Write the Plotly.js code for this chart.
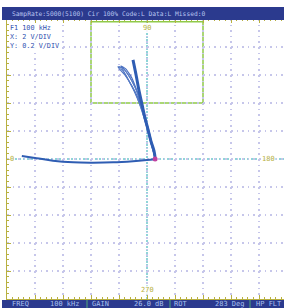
<!DOCTYPE html>
<html><head><meta charset="utf-8">
<script src="https://cdn.plot.ly/plotly-3.0.1.min.js"></script>
<style>html,body{margin:0;padding:0;background:#fff;}#c{width:284px;height:308px;}</style>
</head><body><div id="c"></div>
<script>
// Impedance-plane signal, in screen divisions (X: 2 V/DIV, Y: 0.2 V/DIV)
const horizX = [-4.47,-3.94,-3.36,-2.64,-1.93,-1.21,-0.50,-0.01,0.29];
const horizY = [0.11,0.03,-0.06,-0.12,-0.13,-0.12,-0.08,-0.04,-0.01];
const mainX = [-0.50,-0.39,-0.29,-0.18,-0.07,0.04,0.14,0.25,0.29];
const mainY = [3.54,3.00,2.46,1.96,1.46,1.04,0.64,0.29,0.04];
const loop1X = [0.29,0.14,0.00,-0.14,-0.32,-0.54,-0.79,-1.04,-0.86,-0.64,-0.43,-0.25,-0.11,0.04,0.18,0.29];
const loop1Y = [0.04,0.61,1.18,1.68,2.18,2.61,3.00,3.29,3.25,2.96,2.57,2.11,1.61,1.11,0.54,0.04];
const loop2X = [0.29,0.11,-0.07,-0.25,-0.46,-0.68,-0.93,-0.75,-0.54,-0.36,-0.18,-0.04,0.11,0.29];
const loop2Y = [0.04,0.68,1.36,1.93,2.43,2.86,3.32,3.21,2.89,2.43,1.89,1.32,0.68,0.04];
const loop3X = [0.29,0.12,-0.04,-0.21,-0.40,-0.62,-0.86,-1.00,-0.80,-0.58,-0.38,-0.20,-0.06,0.10,0.29];
const loop3Y = [0.04,0.64,1.25,1.80,2.32,2.75,3.14,3.30,3.18,2.86,2.46,2.00,1.48,0.86,0.04];
const dotX = [0.29];
const dotY = [0.0];
const phaseLabels = ["0","90","180","270"];
const headerText = "SampRate:5000(5100) Cir 100% Code:L Data:L Missed:0";
const infoLines = ["F1 100 kHz","X: 2 V/DIV","Y: 0.2 V/DIV"];
const statusLabels = ["FREQ","GAIN","ROT","HP FLT"];
const statusValues = ["100 kHz","26.0 dB","283 Deg",""];

const blue = '#2f5db3';
const traces = [
  {x: horizX, y: horizY, mode:'lines', line:{color:blue, width:2, shape:'spline'}, hoverinfo:'skip'},
  {x: loop1X, y: loop1Y, mode:'lines', line:{color:'#4f74c2', width:1.2, shape:'spline', smoothing:0.4}, hoverinfo:'skip'},
  {x: loop2X, y: loop2Y, mode:'lines', line:{color:'#4a70c0', width:1.2, shape:'spline', smoothing:0.4}, hoverinfo:'skip'},
  {x: loop3X, y: loop3Y, mode:'lines', line:{color:'#5a7fc8', width:1, shape:'spline', smoothing:0.4}, hoverinfo:'skip'},
  {x: mainX, y: mainY, mode:'lines', line:{color:blue, width:3, shape:'spline'}, hoverinfo:'skip'},
  {x: dotX, y: dotY, mode:'markers', marker:{color:'#c040a0', size:5}, hoverinfo:'skip'}
];

const W=284,H=308,L=7,T=19,PW=277,PH=280;
const px = v => (v-L)/PW;
const py = v => (T+PH-v)/PH;
const mono = 'DejaVu Sans Mono, Liberation Mono, monospace';
const yel = '#b8b040';

const shapes = [
  {type:'rect', xref:'x', yref:'y', x0:-2, x1:2, y0:2, y1:4.9, line:{color:'#90ca48', width:1.5}, layer:'below'},
  {type:'line', xref:'x', yref:'paper', x0:0, x1:0, y0:0, y1:1, line:{color:'#6cc8cc', width:1.5, dash:'2px,1px'}, layer:'below'},
  {type:'line', xref:'paper', yref:'y', x0:0, x1:1, y0:0, y1:0, line:{color:'#6cc8cc', width:1.5, dash:'2px,2px'}, layer:'below'},
  {type:'rect', xref:'paper', yref:'paper', x0:px(2), x1:px(284), y0:py(20), y1:py(7), fillcolor:'#2b3a8e', line:{width:0}},
  {type:'rect', xref:'paper', yref:'paper', x0:px(2), x1:px(284), y0:py(308), y1:py(300), fillcolor:'#2b3a8e', line:{width:0}},
  {type:'line', xref:'paper', yref:'paper', x0:px(87), x1:px(87), y0:py(308), y1:py(300), line:{color:'#50a878', width:1}},
  {type:'line', xref:'paper', yref:'paper', x0:px(170), x1:px(170), y0:py(308), y1:py(300), line:{color:'#50a878', width:1}},
  {type:'line', xref:'paper', yref:'paper', x0:px(250), x1:px(250), y0:py(308), y1:py(300), line:{color:'#50a878', width:1}}
];

const ann = [];
const lbl = (t,x,y,xa) => ann.push({text:t, xref:'paper', yref:'paper', x:px(x), y:py(y), xanchor:xa||'center', yanchor:'middle', showarrow:false, font:{family:mono, size:7, color:yel}, bgcolor:'rgba(255,255,255,0.85)', borderpad:0});
lbl(phaseLabels[1],147,28);
lbl(phaseLabels[3],147,290);
lbl(phaseLabels[0],12,159);
lbl(phaseLabels[2],268,159);
ann.push({text:headerText, xref:'paper', yref:'paper', x:px(10), y:py(14), xanchor:'left', yanchor:'middle', showarrow:false, font:{family:mono, size:6.3, color:'#b8c4f0'}});
infoLines.forEach((t,i)=>ann.push({text:t, xref:'paper', yref:'paper', x:px(9), y:py(28+9*i), xanchor:'left', yanchor:'middle', showarrow:false, font:{family:mono, size:6.8, color:'#3050b0'}, bgcolor:'rgba(255,255,255,0.9)', borderpad:0}));
const segL=[10,90,172,254], segR=[82,166,247,284];
statusLabels.forEach((t,i)=>{
  ann.push({text:t, xref:'paper', yref:'paper', x:px(segL[i]), y:py(304), xanchor:'left', yanchor:'middle', showarrow:false, font:{family:mono, size:7, color:'#a8c0f0'}});
  if(statusValues[i]) ann.push({text:statusValues[i], xref:'paper', yref:'paper', x:px(segR[i]), y:py(304), xanchor:'right', yanchor:'middle', showarrow:false, font:{family:mono, size:7, color:'#a8c0f0'}});
});

const axisCommon = {showticklabels:false, zeroline:false, showgrid:true, gridcolor:'#c6c6ea', gridwidth:1.5, griddash:'1.5px,4.1px',
  dtick:1, tick0:0, ticks:'inside', ticklen:4, tickcolor:yel, tickwidth:1,
  minor:{dtick:0.2, ticks:'inside', ticklen:2, tickcolor:yel, showgrid:false},
  showline:true, linecolor:yel, linewidth:1.5, fixedrange:true};
const layout = {
  width:W, height:H, margin:{l:L, r:W-L-PW, t:T, b:H-T-PH},
  paper_bgcolor:'#fff', plot_bgcolor:'#fff', showlegend:false,
  xaxis: Object.assign({}, axisCommon, {range:[-5, 4.893], mirror:'ticks'}),
  yaxis: Object.assign({}, axisCommon, {range:[-5, 5], mirror:false}),
  shapes: shapes, annotations: ann
};
Plotly.newPlot('c', traces, layout, {staticPlot:true, displayModeBar:false});
</script></body></html>
